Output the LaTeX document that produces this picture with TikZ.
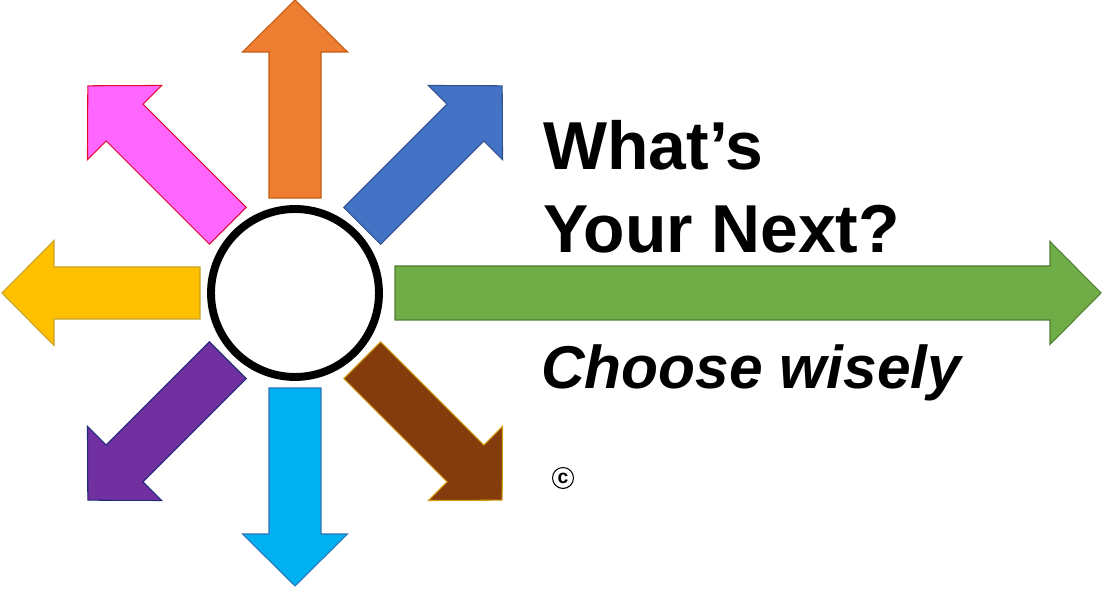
\documentclass[tikz,border=0pt]{standalone}
\usepackage{fontspec}
\setmainfont{Liberation Sans}
\usetikzlibrary{positioning}
\definecolor{upcol}{HTML}{ED7D31}
\definecolor{upline}{HTML}{C55A11}
\definecolor{necol}{HTML}{4472C4}
\definecolor{neline}{HTML}{2F528F}
\definecolor{nwcol}{HTML}{FF66FF}
\definecolor{nwline}{HTML}{E0102F}
\definecolor{leftcol}{HTML}{FFC000}
\definecolor{leftline}{HTML}{C9A227}
\definecolor{swcol}{HTML}{7030A0}
\definecolor{swline}{HTML}{1F2A7A}
\definecolor{downcol}{HTML}{00B0F0}
\definecolor{downline}{HTML}{2E75B6}
\definecolor{secol}{HTML}{843C0C}
\definecolor{seline}{HTML}{D4A017}
\definecolor{nextcol}{HTML}{70AD47}
\definecolor{nextline}{HTML}{507E32}

\begin{document}
\begin{tikzpicture}[x=0.02cm, y=0.02cm,
      spoke/.pic={\path[pic actions, line width=0.6pt]
        (95,-26) -- (241,-26) -- (241,-52.5) -- (293,0)
        -- (241,52.5) -- (241,26) -- (95,26) -- cycle;},
      hub/.style={circle, draw=black, fill=white, line width=4.5pt,
        minimum size=3.36cm, inner sep=0mm},
      title/.style={font=\fontsize{38.6}{45}\selectfont\bfseries,
        inner sep=0mm, anchor=base west},
      motto/.style={font=\fontsize{34.4}{40}\selectfont\bfseries\itshape,
        inner sep=0mm, anchor=base west},
      every circle node/.style={inner sep=0mm}]

      \useasboundingbox (0,0) rectangle (1103,590);

      \node[hub] (hub) at (295,297) {};

      % the eight short arrows round the circle
      \pic[fill=upcol, draw=upline, rotate=90] at (hub.center) {spoke};
      \pic[fill=necol, draw=neline, rotate=45] at (hub.center) {spoke};
      \pic[fill=nwcol, draw=nwline, rotate=135] at (hub.center) {spoke};
      \pic[fill=leftcol, draw=leftline, rotate=180] at (hub.center) {spoke};
      \pic[fill=swcol, draw=swline, rotate=225] at (hub.center) {spoke};
      \pic[fill=downcol, draw=downline, rotate=270] at (hub.center) {spoke};
      \pic[fill=secol, draw=seline, rotate=315] at (hub.center) {spoke};

      % the long one
      \filldraw[fill=nextcol, draw=nextline, line width=0.6pt, shift={(hub.center)}]
        (100,-27) -- (755,-27) -- (755,-51.5) -- (806,0)
        -- (755,51.5) -- (755,27) -- (100,27) -- cycle;

      \node[title] (what) at (543,420) {What’s};
      \node[title] (next) at ([yshift=-1.66cm]what.base west) {Your Next?};
      \node[motto] (wisely) at (541,201) {Choose wisely};
      \node[circle, draw, line width=0.6pt, minimum size=0.42cm,
        font=\fontsize{11}{11}\selectfont\bfseries] (copy) at (563,112) {c};
    \end{tikzpicture}
\end{document}
